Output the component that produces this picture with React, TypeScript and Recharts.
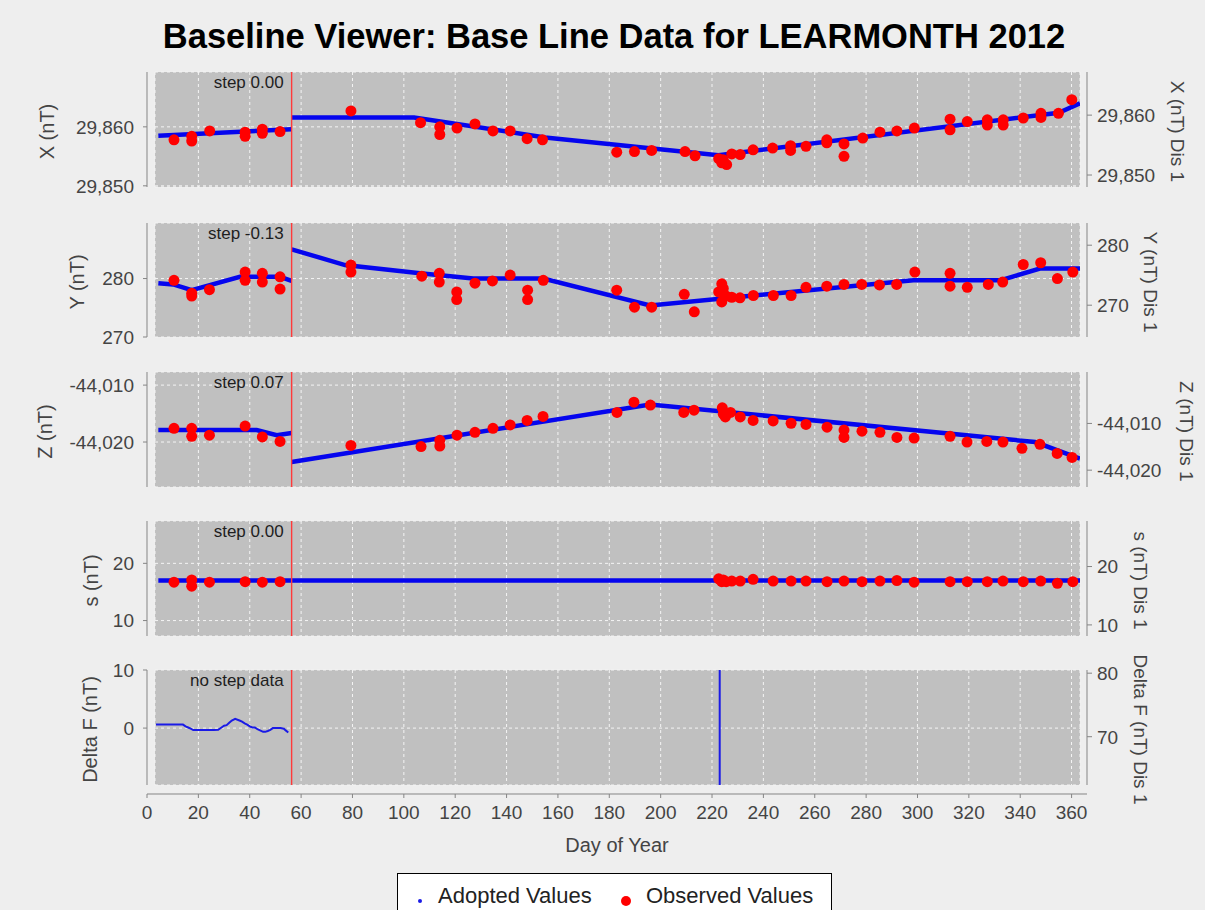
import React from 'react';
import {
  ComposedChart,
  Line,
  Scatter,
  XAxis,
  YAxis,
  CartesianGrid,
  ReferenceLine,
  ReferenceArea,
} from 'recharts';

// day of year, value
const xAdoptedA = [[4.4, 29858.5], [56.3, 29859.6]];
const xAdoptedB = [[56.3, 29861.6], [104, 29861.6], [155, 29858.2], [222.5, 29855.2], [355, 29862.4], [363.3, 29864.0]];
const xObserved = [
  [10.5, 29857.8], [17.4, 29858.4], [17.4, 29857.6], [24.4, 29859.3], [38.2, 29859.1], [38.2, 29858.4],
  [44.9, 29859.6], [44.9, 29858.9], [51.8, 29859.2], [79.4, 29862.7], [106.5, 29860.7], [114, 29860.0],
  [114, 29858.7], [120.7, 29859.8], [127.7, 29860.5], [134.7, 29859.3], [141.4, 29859.3], [148, 29858.0],
  [154, 29857.8], [182.9, 29855.7], [189.8, 29855.8], [196.5, 29856.0], [209.5, 29855.8], [213.4, 29855.1],
  [222.6, 29854.6], [223.8, 29853.9], [224.4, 29854.4], [225.7, 29853.6], [227.7, 29855.4], [231, 29855.3],
  [236, 29856.1], [243.6, 29856.4], [250.6, 29856.8], [250.6, 29856.0], [256.6, 29856.7], [264.7, 29857.8],
  [264.7, 29857.3], [271.4, 29857.1], [271.4, 29855.0], [278.7, 29858.1], [285.4, 29859.1], [292, 29859.3],
  [298.8, 29859.8], [312.7, 29861.3], [312.7, 29859.5], [319.4, 29860.9], [327.2, 29861.2], [327.2, 29860.3],
  [333.4, 29861.2], [333.4, 29860.3], [341.2, 29861.5], [348.1, 29862.3], [348.1, 29861.6], [354.9, 29862.3],
  [360.1, 29864.6],
];

const yAdoptedA = [[4.4, 279.2], [10.2, 279.0], [17.4, 278.0], [36.2, 280.3], [51.8, 280.3], [56.3, 279.6]];
const yAdoptedB = [
  [56.3, 285.0], [77.1, 282.3], [106.3, 280.9], [127, 280.0], [154.3, 280.0], [195.9, 275.4],
  [298.4, 279.7], [332.2, 279.7], [347.7, 281.7], [363.3, 281.7],
];
const yObserved = [
  [10.5, 279.7], [17.4, 277.5], [17.4, 277.0], [24.3, 278.1], [38.2, 281.1], [38.2, 279.7], [44.9, 280.9],
  [44.9, 279.4], [51.8, 280.3], [51.8, 278.2], [79.4, 282.3], [79.4, 281.1], [107, 280.4], [113.8, 280.9],
  [113.8, 279.4], [120.6, 277.7], [120.6, 276.4], [127.7, 279.2], [134.5, 279.6], [141.4, 280.6], [148.2, 278.0],
  [148.2, 276.4], [154.3, 279.7], [182.9, 278.0], [189.8, 275.1], [196.5, 275.1], [209.2, 277.3], [213.1, 274.3],
  [222.6, 277.7], [223.8, 279.1], [223.8, 276.0], [224.4, 278.3], [225.5, 277.0], [227.7, 276.8], [230.9, 276.7],
  [236.1, 277.1], [243.9, 277.1], [250.8, 277.1], [256.6, 278.5], [264.7, 278.7], [271.4, 279.0], [278.3, 279.0],
  [285.2, 278.9], [291.9, 279.0], [299, 281.1], [312.7, 280.9], [312.7, 278.7], [319.4, 278.5], [327.6, 279.0],
  [333.2, 279.4], [341.2, 282.4], [348, 282.7], [354.5, 280.0], [360.5, 281.1],
];

const zAdoptedA = [[4.4, -44017.9], [42.7, -44017.9], [50.5, -44018.8], [56.3, -44018.4]];
const zAdoptedB = [[56.3, -44023.5], [195.9, -44013.4], [345.8, -44020.0], [363.3, -44022.9]];
const zObserved = [
  [10.5, -44017.6], [17.4, -44017.6], [17.4, -44019.0], [24.3, -44018.8], [38.2, -44017.2], [44.9, -44019.1],
  [51.8, -44019.9], [79.4, -44020.6], [106.7, -44020.8], [114, -44020.7], [114, -44019.7], [120.7, -44018.8],
  [127.7, -44018.3], [134.7, -44017.6], [141.4, -44017.0], [148, -44016.2], [154.2, -44015.5], [183, -44014.8],
  [189.6, -44013.0], [196, -44013.5], [209, -44014.8], [213, -44014.4], [224, -44014.0], [224.4, -44015.1],
  [225.2, -44015.6], [227.2, -44014.8], [231, -44015.6], [236, -44016.2], [243.8, -44016.3], [250.8, -44016.7],
  [256.6, -44016.9], [264.8, -44017.4], [271.4, -44017.9], [271.4, -44019.2], [278.4, -44018.1], [285.4, -44018.3],
  [292, -44019.2], [298.7, -44019.3], [312.7, -44019.0], [319.3, -44020.0], [327, -44019.9], [333.3, -44020.0],
  [340.7, -44021.1], [347.7, -44020.4], [354.4, -44022.0], [360.2, -44022.7],
];

const sAdoptedA = [[4.4, 17.0], [56.3, 17.0]];
const sAdoptedB = [[56.3, 17.0], [363.3, 17.0]];
const sObserved = [
  [10.5, 16.7], [17.4, 17.1], [17.4, 16.0], [24.3, 16.7], [38.2, 16.8], [44.9, 16.7], [51.8, 16.8],
  [222.6, 17.3], [223.8, 16.8], [224.4, 17.1], [225.5, 16.8], [227.7, 16.9], [231, 16.9], [236, 17.2],
  [243.8, 16.9], [250.8, 16.9], [256.6, 16.9], [264.8, 16.8], [271.4, 16.9], [278.4, 16.8], [285.4, 16.9],
  [292, 17.0], [298.7, 16.7], [312.7, 16.8], [319.4, 16.8], [327.2, 16.8], [333.3, 16.9], [341.2, 16.8],
  [348, 16.9], [354.5, 16.5], [360.5, 16.8],
];

const deltaF = [
  [3.5, 0.6], [6, 0.6], [8, 0.6], [10, 0.6], [12, 0.6], [14, 0.6], [15, 0.3], [16, 0.1], [17, -0.1],
  [18, -0.35], [20, -0.35], [22, -0.35], [24, -0.35], [26, -0.35], [27.7, -0.3], [29, 0.1], [30, 0.4],
  [31, 0.5], [32, 0.9], [33, 1.3], [34.3, 1.6], [36, 1.3], [37, 1.1], [38, 0.8], [39, 0.6], [40, 0.3],
  [41, 0.1], [42, 0.1], [43, -0.2], [44, -0.4], [45.2, -0.65], [46, -0.65], [47, -0.5], [48, -0.3],
  [49, 0.0], [50, 0.0], [51, 0.0], [52, 0.0], [53.3, -0.1], [54, -0.4], [55, -0.75],
  [140, null], [223, 40], [223, -40],
];

const gridDays = [20, 40, 60, 80, 100, 120, 140, 160, 180, 200, 220, 240, 260, 280, 300, 320, 340, 360];
const axisDays = [0, ...gridDays];
const stepDay = 56.3;

const FONT = '"Liberation Sans", Arial, Helvetica, sans-serif';
const AXIS = '#858585';
const TEXT = '#444444';
const W = 1205;
const PLOT_LEFT = 155;
const PLOT_RIGHT = 1080;
const PAD = 30;

const toPts = (rows: (number | null)[][]) => rows.map(([day, v]) => ({ day, v }));
const fmt = (v: number) => v.toLocaleString('en-US');

const panels = [
  {
    top: 72, bottom: 187, left: [29849.8, 29869.3], leftTicks: [29850, 29860],
    right: [29848, 29867.2], rightTicks: [29850, 29860], label: 'X (nT)', rightLabel: 'X (nT) Dis 1',
    leftGap: 108, rightGap: 98, step: 'step 0.00', adopted: [xAdoptedA, xAdoptedB], observed: xObserved,
  },
  {
    top: 223, bottom: 337, left: [270, 289.5], leftTicks: [270, 280],
    right: [264.7, 283.7], rightTicks: [270, 280], label: 'Y (nT)', rightLabel: 'Y (nT) Dis 1',
    leftGap: 78, rightGap: 71, step: 'step -0.13', adopted: [yAdoptedA, yAdoptedB], observed: yObserved,
  },
  {
    top: 372, bottom: 487, left: [-44027.9, -44007.7], leftTicks: [-44020, -44010],
    right: [-44023.6, -43999], rightTicks: [-44020, -44010], label: 'Z (nT)', rightLabel: 'Z (nT) Dis 1',
    leftGap: 110, rightGap: 107, step: 'step 0.07', adopted: [zAdoptedA, zAdoptedB], observed: zObserved,
  },
  {
    top: 521, bottom: 636, left: [7.3, 27.4], leftTicks: [10, 20],
    right: [8.1, 27.8], rightTicks: [10, 20], label: 's (nT)', rightLabel: 's (nT) Dis 1',
    leftGap: 64, rightGap: 61, step: 'step 0.00', adopted: [sAdoptedA, sAdoptedB], observed: sObserved,
  },
  {
    top: 670, bottom: 785, left: [-9.8, 10], leftTicks: [0, 10],
    right: [62.4, 80.5], rightTicks: [70, 80], label: 'Delta F (nT)', rightLabel: 'Delta F (nT) Dis 1',
    leftGap: 65, rightGap: 61, step: 'no step data', adopted: [], observed: [], delta: deltaF,
  },
];

function LeftTick(p: any) {
  const { x, y, payload } = p;
  return (
    <g>
      <line x1={x - 12} x2={x - 8} y1={y} y2={y} stroke={AXIS} />
      <text x={x - 21} y={y} dy="0.36em" textAnchor="end" fontSize={19} fill={TEXT} fontFamily={FONT}>
        {fmt(payload.value)}
      </text>
    </g>
  );
}

function RightTick(p: any) {
  const { x, y, payload } = p;
  return (
    <g>
      <line x1={x + 7} x2={x + 12} y1={y} y2={y} stroke={AXIS} />
      <text x={x + 17} y={y} dy="0.36em" textAnchor="start" fontSize={19} fill={TEXT} fontFamily={FONT}>
        {fmt(payload.value)}
      </text>
    </g>
  );
}

// offset axis line and rotated axis title, drawn from the axis viewBox
function AxisFrame(p: any) {
  const { viewBox, side, text, gap } = p;
  if (!viewBox) return null;
  const { x, y, width, height } = viewBox;
  const isLeft = side === 'left';
  const lineX = isLeft ? x + width - 8 : x + 7;
  const cx = isLeft ? x + width - gap : x + gap;
  const cy = y + height / 2 + 2;
  return (
    <g>
      <line x1={lineX} x2={lineX} y1={y} y2={y + height} stroke={AXIS} />
      <text
        x={cx}
        y={cy}
        transform={`rotate(${isLeft ? -90 : 90} ${cx} ${cy})`}
        textAnchor="middle"
        dy="0.35em"
        fontSize={isLeft ? 20 : 19}
        fill={TEXT}
        fontFamily={FONT}
      >
        {text}
      </text>
    </g>
  );
}

function StepLabel(p: any) {
  const { viewBox, text } = p;
  if (!viewBox) return null;
  return (
    <text x={viewBox.x - 8} y={viewBox.y + 16} textAnchor="end" fontSize={17} fill="#1e1e1e" fontFamily={FONT}>
      {text}
    </text>
  );
}

const RedDot = (p: any) => <circle cx={p.cx} cy={p.cy} r={5.5} fill="#ff0000" />;

function Panel({ cfg }: { cfg: any }) {
  const h = cfg.bottom - cfg.top;
  return (
    <div style={{ position: 'absolute', left: 0, top: cfg.top - PAD }}>
      <ComposedChart
        width={W}
        height={h + 2 * PAD}
        margin={{ top: PAD, bottom: PAD, left: PLOT_LEFT - 80, right: W - PLOT_RIGHT - 80 }}
      >
        <CartesianGrid fill="#c0c0c0" fillOpacity={1} stroke="#f4f4f4" strokeDasharray="3 3" />
        <XAxis type="number" dataKey="day" domain={[3.1, 363.3]} ticks={gridDays} hide allowDataOverflow />
        <YAxis
          type="number"
          domain={cfg.left}
          ticks={cfg.leftTicks}
          width={80}
          axisLine={false}
          tickLine={false}
          tickSize={0}
          tickMargin={0}
          interval={0}
          allowDataOverflow
          tick={(p: any) => <LeftTick {...p} />}
          label={(p: any) => <AxisFrame {...p} side="left" text={cfg.label} gap={cfg.leftGap} />}
        />
        <YAxis
          yAxisId="right"
          orientation="right"
          type="number"
          domain={cfg.right}
          ticks={cfg.rightTicks}
          width={80}
          axisLine={false}
          tickLine={false}
          tickSize={0}
          tickMargin={0}
          interval={0}
          allowDataOverflow
          tick={(p: any) => <RightTick {...p} />}
          label={(p: any) => <AxisFrame {...p} side="right" text={cfg.rightLabel} gap={cfg.rightGap} />}
        />
        {cfg.adopted.map((seg: number[][], i: number) => (
          <Line
            key={'a' + i}
            data={toPts(seg)}
            dataKey="v"
            stroke="#0505ee"
            strokeWidth={4.5}
            dot={false}
            isAnimationActive={false}
          />
        ))}
        {cfg.delta && (
          <Line
            data={toPts(cfg.delta)}
            dataKey="v"
            stroke="#1a1ae6"
            strokeWidth={2}
            dot={false}
            connectNulls={false}
            isAnimationActive={false}
          />
        )}
        {cfg.observed.length > 0 && (
          <Scatter data={toPts(cfg.observed)} dataKey="v" fill="#ff0000" shape={RedDot} isAnimationActive={false} />
        )}
        <ReferenceLine
          x={stepDay}
          stroke="#ff3a3a"
          strokeWidth={1.4}
          label={(p: any) => <StepLabel {...p} text={cfg.step} />}
        />
        <ReferenceArea fill="none" stroke="#7a7a7a" strokeWidth={1} ifOverflow="visible" />
      </ComposedChart>
    </div>
  );
}

function BottomAxis() {
  return (
    <div style={{ position: 'absolute', left: 0, top: 793 }}>
      <ComposedChart
        width={W}
        height={66}
        data={toPts(deltaF)}
        margin={{ top: 0, bottom: 0, left: 147, right: W - 1087 }}
      >
        <XAxis
          type="number"
          dataKey="day"
          domain={[0, 366]}
          ticks={axisDays}
          interval={0}
          allowDataOverflow
          height={65}
          stroke={AXIS}
          tickSize={4}
          tickMargin={8}
          tick={{ fill: TEXT, fontSize: 19, fontFamily: FONT }}
          label={{ value: 'Day of Year', position: 'insideBottom', offset: 7, fill: TEXT, fontSize: 20, fontFamily: FONT }}
        />
        <YAxis hide domain={[-9.8, 10]} />
      </ComposedChart>
    </div>
  );
}

export default function App() {
  return (
    <div
      style={{
        position: 'absolute',
        left: 0,
        top: 0,
        width: W,
        height: 910,
        background: '#eeeeee',
        overflow: 'hidden',
        fontFamily: FONT,
      }}
    >
      <div
        style={{
          position: 'absolute',
          left: 614,
          top: 17,
          transform: 'translateX(-50%)',
          whiteSpace: 'nowrap',
          fontSize: 34.5,
          fontWeight: 'bold',
          color: '#000',
        }}
      >
        Baseline Viewer: Base Line Data for LEARMONTH 2012
      </div>
      {panels.map((cfg, i) => (
        <Panel key={i} cfg={cfg} />
      ))}
      <BottomAxis />
      <div
        style={{
          position: 'absolute',
          left: 397,
          top: 873,
          width: 433,
          height: 44,
          border: '1px solid #000',
          background: '#fff',
          fontSize: 22,
          color: '#222',
        }}
      >
        <span style={{ position: 'absolute', left: 20, top: 25, width: 4, height: 4, borderRadius: 2, background: '#1a1ae6' }} />
        <span style={{ position: 'absolute', left: 40, top: 9, whiteSpace: 'nowrap' }}>Adopted Values</span>
        <span style={{ position: 'absolute', left: 223, top: 22, width: 10, height: 10, borderRadius: 5, background: '#ff0000' }} />
        <span style={{ position: 'absolute', left: 248, top: 9, whiteSpace: 'nowrap' }}>Observed Values</span>
      </div>
    </div>
  );
}
